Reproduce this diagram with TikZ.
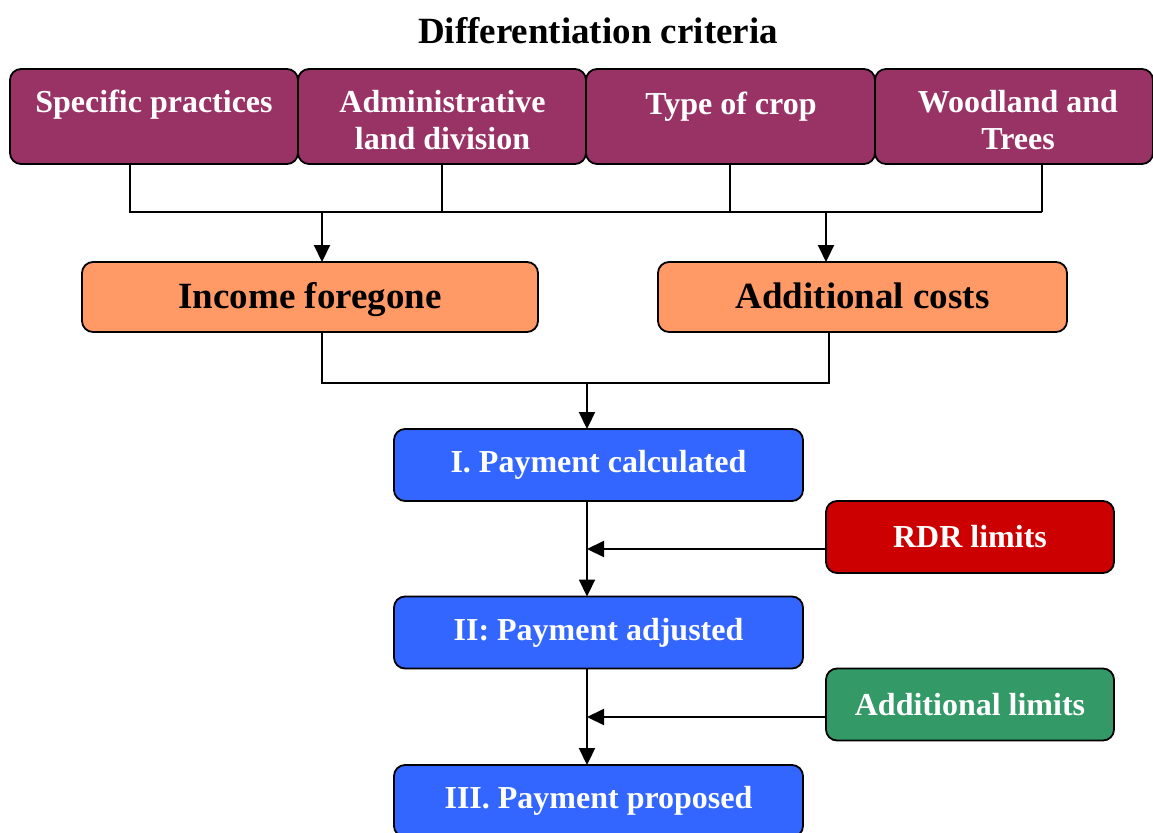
\documentclass[tikz,border=0pt]{standalone}
\usepackage{fontspec}
\setmainfont{Liberation Serif}
\usetikzlibrary{arrows.meta}
\definecolor{critcol}{HTML}{993366}
\definecolor{costcol}{HTML}{FF9966}
\definecolor{paycol}{HTML}{3366FF}
\definecolor{rdrcol}{HTML}{CC0000}
\definecolor{limcol}{HTML}{339966}
\newcommand\dgBig{\fontsize{37}{43}\selectfont\bfseries}
\newcommand\dgMid{\fontsize{32}{36.5}\selectfont\bfseries}
\tikzset{
  box/.style={draw=black, line width=1.8pt, rounded corners=11pt, inner sep=0pt, outer sep=0pt},
  crit/.style={box, fill=critcol, minimum height=95pt},
  crittext/.style={text=white, font=\dgMid, inner sep=0pt, anchor=base},
  cost/.style={box, fill=costcol, minimum height=70pt, text=black, font=\dgBig, text height=27pt, text depth=5pt},
  pay/.style={box, fill=paycol, text=white, minimum width=409pt, minimum height=72pt, font=\dgMid},
  lim/.style={box, text=white, minimum width=288pt, minimum height=72pt, font=\dgMid},
  conn/.style={line width=1.8pt, draw=black},
  arr/.style={conn, line width=2.2pt, -{Triangle[length=17pt,width=16pt]}},
}
\begin{document}
\begin{tikzpicture}[x=1pt,y=-1pt]
\useasboundingbox (0,0) rectangle (1153,832);
% title
\node[font=\dgBig, anchor=base, inner sep=0pt] (title) at (598,44) {Differentiation criteria};
% criteria boxes
\node[crit, minimum width=288pt] (sp) at (154,116.5) {};
\node[crit, minimum width=288pt] (ad) at (442,116.5) {};
\node[crit, minimum width=289pt] (tc) at (730.5,116.5) {};
\node[crit, minimum width=278pt] (wt) at (1014,116.5) {};
\node[crittext] (sptext) at (154,113) {Specific practices};
\node[crittext] (adtext) at (442.5,113) {\begin{tabular}[t]{@{}c@{}}Administrative\\land division\end{tabular}};
\node[crittext] (tctext) at (731,114) {Type of crop};
\node[crittext] (wttext) at (1018,113) {\begin{tabular}[t]{@{}c@{}}Woodland and\\Trees\end{tabular}};
% cost boxes
\node[cost, minimum width=456pt] (inc) at (310,297) {Income foregone};
\node[cost, minimum width=409pt] (addc) at (862.5,297) {Additional costs};
% payment boxes
\node[pay] (p1) at (598.5,465) {I. Payment calculated};
\node[pay] (p2) at (598.5,632.5) {II: Payment adjusted};
\node[pay] (p3) at (598.5,801) {III. Payment proposed};
% limit boxes
\node[lim, fill=rdrcol] (rdr) at (970,537) {RDR limits};
\node[lim, fill=limcol] (alim) at (970,704.5) {Additional limits};
% first bus
\coordinate (busR) at (1042,212);
\coordinate (spOut) at ([xshift=-24pt]sp.south);
\coordinate (wtOut) at ([xshift=28pt]wt.south);
\coordinate (tcOut) at ([xshift=-0.5pt]tc.south);
\draw[conn] (spOut) |- (busR);
\draw[conn] (wtOut) -- (wtOut |- busR);
\draw[conn] (ad.south) -- (ad.south |- busR);
\draw[conn] (tcOut) -- (tcOut |- busR);
\coordinate (incIn) at ([xshift=12pt]inc.north);
\coordinate (addIn) at ([xshift=-36.5pt]addc.north);
\draw[arr] (incIn |- busR) -- (incIn);
\draw[arr] (addIn |- busR) -- (addIn);
% second bus
\coordinate (bus2) at (587,383);
\coordinate (incOut) at ([xshift=12pt]inc.south);
\coordinate (addOut) at ([xshift=-33.5pt]addc.south);
\draw[conn] (incOut) |- (addOut |- bus2) -- (addOut);
\draw[arr] (bus2) -- (bus2 |- p1.north);
% payment chain
\coordinate (v1) at ([xshift=-11.5pt]p1.south);
\coordinate (v2) at ([xshift=-11.5pt]p2.south);
\draw[arr] (v1) -- (v1 |- p2.north);
\draw[arr] (v2) -- (v2 |- p3.north);
\coordinate (rdrOut) at ([yshift=-12pt]rdr.west);
\coordinate (alimOut) at ([yshift=-12.5pt]alim.west);
\draw[arr] (rdrOut) -- (rdrOut -| v1);
\draw[arr] (alimOut) -- (alimOut -| v2);
\end{tikzpicture}
\end{document}
